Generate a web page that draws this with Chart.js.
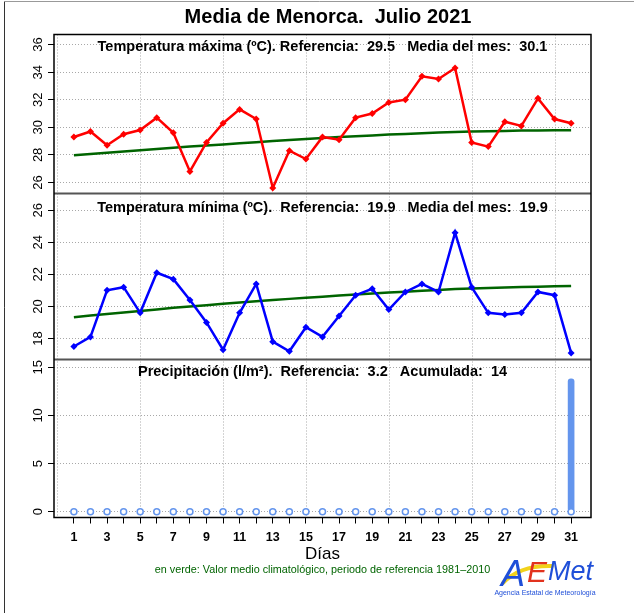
<!DOCTYPE html>
<html>
<head>
<meta charset="utf-8">
<script src="https://cdn.jsdelivr.net/npm/chart.js@4.4.1/dist/chart.umd.min.js"></script>
<style>
  body { margin: 0; background: #fff; }
  #grafico { display: block; }
</style>
</head>
<body>
<canvas id="grafico" width="634" height="613"></canvas>
<script>
const dias = [1, 2, 3, 4, 5, 6, 7, 8, 9, 10, 11, 12, 13, 14, 15, 16, 17, 18, 19, 20, 21, 22, 23, 24, 25, 26, 27, 28, 29, 30, 31];

const tMax = [29.3, 29.7, 28.7, 29.5, 29.8, 30.7, 29.6, 26.8, 28.9, 30.3, 31.3, 30.6, 25.6, 28.3, 27.7, 29.3,
  29.1, 30.7, 31.0, 31.8, 32.0, 33.7, 33.5, 34.3, 28.9, 28.6, 30.4, 30.1, 32.1, 30.6, 30.3];
const tMaxRef = [27.97, 28.06, 28.15, 28.24, 28.33, 28.42, 28.51, 28.6, 28.68, 28.76, 28.84, 28.92, 29.0, 29.08,
  29.15, 29.22, 29.29, 29.35, 29.41, 29.47, 29.52, 29.57, 29.62, 29.66, 29.69, 29.72, 29.74, 29.76, 29.77, 29.78, 29.79];

const tMin = [17.5, 18.1, 21.0, 21.2, 19.6, 22.1, 21.7, 20.4, 19.0, 17.3, 19.6, 21.4, 17.8, 17.2, 18.7, 18.1,
  19.4, 20.7, 21.1, 19.8, 20.9, 21.4, 20.9, 24.6, 21.2, 19.6, 19.5, 19.6, 20.9, 20.7, 17.1];
const tMinRef = [19.33, 19.43, 19.53, 19.62, 19.72, 19.81, 19.91, 20.0, 20.08, 20.16, 20.24, 20.32, 20.4, 20.47,
  20.54, 20.61, 20.68, 20.74, 20.8, 20.86, 20.92, 20.97, 21.03, 21.08, 21.12, 21.15, 21.18, 21.21, 21.23, 21.25, 21.27];

const precip = [0, 0, 0, 0, 0, 0, 0, 0, 0, 0, 0, 0, 0.2, 0, 0, 0, 0, 0, 0, 0, 0, 0, 0, 0, 0, 0, 0, 0, 0, 0, 13.8];
const precipBase = [0, 0, 0, 0, 0, 0, 0, 0, 0, 0, 0, 0, 0, 0, 0, 0, 0, 0, 0, 0, 0, 0, 0, 0, 0, 0, 0, 0, 0, 0, 0];

const ticksTMax = [26, 28, 30, 32, 34, 36];
const ticksTMin = [18, 20, 22, 24, 26];
const ticksPrecip = [0, 5, 10, 15];
const diasRejilla = [0, 5, 10, 15, 20, 25, 30];
const diasEtiqueta = [1, 3, 5, 7, 9, 11, 13, 15, 17, 19, 21, 23, 25, 27, 29, 31];

const titulo = "Media de Menorca.  Julio 2021";
const tituloMax = "Temperatura máxima (ºC). Referencia:  29.5   Media del mes:  30.1";
const tituloMin = "Temperatura mínima (ºC).  Referencia:  19.9   Media del mes:  19.9";
const tituloPrecip = "Precipitación (l/m²).  Referencia:  3.2   Acumulada:  14";

const FUENTE = "'Liberation Sans', Arial, sans-serif";
const GRIS_REJILLA = "#a8a8a8";

const pares = (valores) => dias.map((d, i) => ({ x: d, y: valores[i] }));

function ejeY(ticks, min, max, peso, orden) {
  return {
    type: "linear",
    position: "left",
    stack: "paneles",
    stackWeight: peso,
    weight: orden,
    min: min,
    max: max,
    afterBuildTicks: (s) => { s.ticks = ticks.map((v) => ({ value: v })); },
    afterFit: (s) => { s.width = 49; },
    ticks: { display: false },
    grid: {
      color: GRIS_REJILLA,
      lineWidth: 1,
      drawTicks: true,
      tickLength: 6,
      tickColor: "#000",
      tickWidth: 1,
      tickBorderDash: [],
    },
    border: { display: false, dash: [1, 2] },
  };
}

// rejilla vertical cada 5 dias, por detras de las series
const rejillaDias = {
  id: "rejillaDias",
  beforeDatasetsDraw(chart) {
    const ctx = chart.ctx;
    const area = chart.chartArea;
    const x = chart.scales.x;
    ctx.save();
    ctx.strokeStyle = GRIS_REJILLA;
    ctx.lineWidth = 1;
    ctx.setLineDash([1, 2]);
    diasRejilla.forEach((d) => {
      const px = Math.round(x.getPixelForValue(d)) + 0.5;
      ctx.beginPath();
      ctx.moveTo(px, area.top);
      ctx.lineTo(px, area.bottom);
      ctx.stroke();
    });
    ctx.restore();
  },
};

// textos, marcos y etiquetas del eje y
const decoracion = {
  id: "decoracion",
  afterDatasetsDraw(chart) {
    const ctx = chart.ctx;
    const area = chart.chartArea;
    const cx = (area.left + area.right) / 2;
    ctx.save();

    // etiquetas del eje y, giradas como en R
    ctx.fillStyle = "#000";
    ctx.font = "13px " + FUENTE;
    ctx.textAlign = "center";
    ctx.textBaseline = "middle";
    ["yMax", "yMin", "yPrecip"].forEach((id) => {
      const s = chart.scales[id];
      s.ticks.forEach((t) => {
        const y = s.getPixelForValue(t.value);
        ctx.save();
        ctx.translate(38, y);
        ctx.rotate(-Math.PI / 2);
        ctx.fillText(String(t.value), 0, 0);
        ctx.restore();
      });
    });

    // marcos de los paneles
    const sMax = chart.scales.yMax, sMin = chart.scales.yMin;
    ctx.strokeStyle = "#555";
    ctx.lineWidth = 2;
    [sMax.bottom, sMin.bottom].forEach((y) => {
      ctx.beginPath();
      ctx.moveTo(area.left, y);
      ctx.lineTo(area.right, y);
      ctx.stroke();
    });
    ctx.strokeStyle = "#000";
    ctx.lineWidth = 1.5;
    ctx.strokeRect(area.left, area.top, area.right - area.left, area.bottom - area.top);

    // titulos
    ctx.textBaseline = "middle";
    ctx.font = "bold 20px " + FUENTE;
    ctx.fillText(titulo, 328, 17);
    ctx.font = "bold 14.5px " + FUENTE;
    ctx.fillText(tituloMax, cx, 47);
    ctx.fillText(tituloMin, cx, 208);
    ctx.fillText(tituloPrecip, cx, 372);

    ctx.font = "17px " + FUENTE;
    ctx.fillText("Días", cx, 554);
    ctx.fillStyle = "#006400";
    ctx.font = "10.8px " + FUENTE;
    ctx.fillText("en verde: Valor medio climatológico, periodo de referencia 1981\u20132010", cx, 570);

    // logotipo AEMet
    ctx.strokeStyle = "#f2d21b";
    ctx.lineWidth = 4;
    ctx.lineCap = "round";
    ctx.beginPath();
    ctx.moveTo(503, 583);
    ctx.quadraticCurveTo(520, 565, 552, 566);
    ctx.stroke();
    ctx.textAlign = "left";
    ctx.textBaseline = "alphabetic";
    ctx.font = "italic 36px " + FUENTE;
    ctx.fillStyle = "#1f4fd8";
    ctx.fillText("A", 501, 586);
    ctx.fillStyle = "#e2321e";
    ctx.font = "italic 30px " + FUENTE;
    ctx.fillText("E", 527, 582);
    ctx.fillStyle = "#1f4fd8";
    ctx.font = "italic 27px " + FUENTE;
    ctx.fillText("Met", 548, 580);
    ctx.font = "7px " + FUENTE;
    ctx.textAlign = "center";
    ctx.fillText("Agencia Estatal de Meteorología", 545, 595);

    // marco exterior
    ctx.strokeStyle = "#333";
    ctx.lineWidth = 1;
    ctx.beginPath();
    ctx.moveTo(4.5, 613);
    ctx.lineTo(4.5, 1.5);
    ctx.stroke();
    ctx.strokeStyle = "#999";
    ctx.beginPath();
    ctx.moveTo(4.5, 1.5);
    ctx.lineTo(634, 1.5);
    ctx.stroke();
    ctx.restore();
  },
};

new Chart(document.getElementById("grafico"), {
  data: {
    datasets: [
      {
        type: "line",
        data: pares(tMaxRef),
        yAxisID: "yMax",
        borderColor: "#006400",
        borderWidth: 2.5,
        pointRadius: 0,
        order: 3,
      },
      {
        type: "line",
        data: pares(tMax),
        yAxisID: "yMax",
        borderColor: "#ff0000",
        backgroundColor: "#ff0000",
        borderWidth: 2.5,
        pointStyle: "rectRot",
        pointRadius: 3.5,
        pointBorderWidth: 0,
        order: 1,
      },
      {
        type: "line",
        data: pares(tMinRef),
        yAxisID: "yMin",
        borderColor: "#006400",
        borderWidth: 2.5,
        pointRadius: 0,
        order: 3,
      },
      {
        type: "line",
        data: pares(tMin),
        yAxisID: "yMin",
        borderColor: "#0000ff",
        backgroundColor: "#0000ff",
        borderWidth: 2.5,
        pointStyle: "rectRot",
        pointRadius: 3.5,
        pointBorderWidth: 0,
        order: 1,
      },
      {
        type: "bar",
        data: pares(precip),
        yAxisID: "yPrecip",
        backgroundColor: "#6495ed",
        barThickness: 6,
        borderRadius: 3,
        borderSkipped: false,
        order: 2,
      },
      {
        type: "line",
        data: pares(precipBase),
        yAxisID: "yPrecip",
        showLine: false,
        pointStyle: "circle",
        pointRadius: 3,
        pointBorderWidth: 1.5,
        pointBorderColor: "#6495ed",
        pointBackgroundColor: "#ffffff",
        order: 1,
      },
    ],
  },
  options: {
    responsive: false,
    animation: false,
    devicePixelRatio: 1,
    layout: { padding: { left: 5, right: 43, top: 34.5, bottom: 0 } },
    plugins: { legend: { display: false }, tooltip: { enabled: false } },
    scales: {
      x: {
        type: "linear",
        position: "bottom",
        offset: false,
        min: -0.2,
        max: 32.2,
        afterBuildTicks: (s) => { s.ticks = dias.map((v) => ({ value: v })); },
        afterFit: (s) => { s.height = 95.5; },
        ticks: {
          autoSkip: false,
          maxRotation: 0,
          padding: 7,
          color: "#000",
          font: { family: FUENTE, size: 12.5, weight: "bold" },
          callback: (v) => (diasEtiqueta.includes(v) ? String(v) : ""),
        },
        grid: {
          offset: false,
          drawOnChartArea: false,
          lineWidth: 1,
          tickLength: 6,
          tickColor: "#000",
          tickWidth: 1,
        },
        border: { display: false },
      },
      yMax: ejeY(ticksTMax, 25.2, 36.73, 159, 3),
      yMin: ejeY(ticksTMin, 16.69, 27.04, 166, 2),
      yPrecip: ejeY(ticksPrecip, -0.6, 15.8, 158, 1),
    },
  },
  plugins: [rejillaDias, decoracion],
});
</script>
</body>
</html>
